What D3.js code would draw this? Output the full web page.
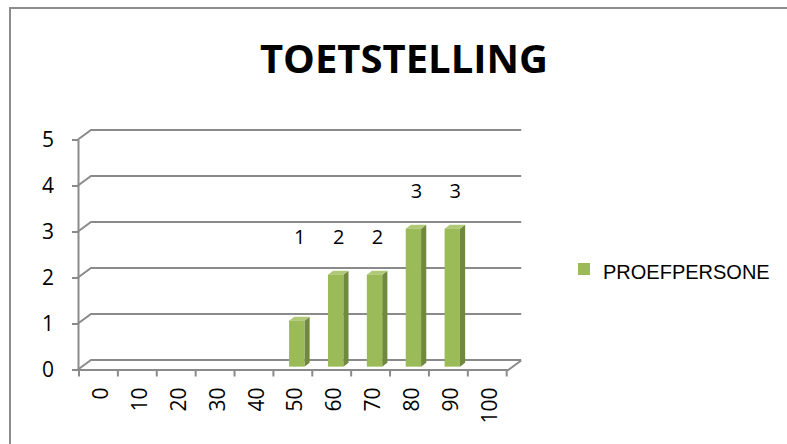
<!DOCTYPE html>
<html>
<head>
<meta charset="utf-8">
<script src="https://cdn.jsdelivr.net/npm/d3@7"></script>
<style>
  html, body { margin: 0; padding: 0; background: #fff; }
  svg { display: block; }
</style>
</head>
<body>
<svg id="chart" width="787" height="444"></svg>
<script>
// Scores of the test subjects, grouped per 10 points
const title = "TOETSTELLING";
const seriesName = "PROEFPERSONE";
const categories = ["0", "10", "20", "30", "40", "50", "60", "70", "80", "90", "100"];
const counts = [0, 0, 0, 0, 0, 1, 2, 2, 3, 3, 0];
const yTicks = [0, 1, 2, 3, 4, 5];

// extra lift (px) for value labels that sit higher than the rest
const labelLift = { "50": 46 };

const svg = d3.select("#chart");

const green = "#9BBB59", greenSide = "#71893F", greenTop = "#AFC978";
const gridCol = "#8A8A8A";

// chart frame
svg.append("rect")
  .attr("x", 10).attr("y", 8).attr("width", 800).attr("height", 460)
  .attr("fill", "#fff").attr("stroke", "#8C8C8C").attr("stroke-width", 2);

// oblique depth of the plot box
const DX = 13, DY = -9.5;

const x = d3.scaleBand().domain(categories).range([79, 506.7]).paddingInner(0).paddingOuter(0);
const y = d3.scaleLinear().domain([0, 5]).range([369.5, 139.5]);
const backRight = x.range()[1] + DX + 1.5;

// back wall gridlines + left wall edges
const grid = svg.append("g").attr("fill", "none").attr("stroke", gridCol).attr("stroke-width", 2);
grid.selectAll("path.g").data(yTicks).join("path")
  .attr("class", "g")
  .attr("d", v => `M${x.range()[0] - 1},${y(v)} L${x.range()[0] - 1 + DX},${y(v) + DY} L${backRight},${y(v) + DY}`);

// floor: front edge and right edge
const x0 = x.range()[0] - 1, x1 = x.range()[1] + 1.5;
grid.append("path")
  .attr("d", `M${x0},${y(0) + 0.5} L${x1},${y(0) + 0.5} L${x1 + DX},${y(0) + 0.5 + DY}`);

// y axis (front vertical edge with ticks)
const yAxis = svg.append("g")
  .attr("transform", `translate(${x0},0)`)
  .call(d3.axisLeft(y).tickValues(yTicks).tickSize(6).tickSizeOuter(0).tickPadding(18).tickFormat(d3.format("d")));
yAxis.selectAll("path, line").attr("stroke", gridCol).attr("stroke-width", 2);
yAxis.selectAll("text")
  .attr("fill", "#000")
  .style("font-family", "'Open Sans', sans-serif")
  .style("font-size", "21px");

// x axis: boundary ticks and rotated category labels
const bounds = d3.range(categories.length + 1).map(i => x.range()[0] + i * x.step());
svg.append("g").selectAll("line").data(bounds).join("line")
  .attr("x1", d => d).attr("x2", d => d)
  .attr("y1", y(0)).attr("y2", y(0) + 7)
  .attr("stroke", gridCol).attr("stroke-width", 2);

const xAxis = svg.append("g")
  .attr("transform", `translate(0,${y(0)})`)
  .call(d3.axisBottom(x).tickSize(0).tickSizeOuter(0));
xAxis.select(".domain").remove();
xAxis.selectAll("text")
  .attr("fill", "#000")
  .style("font-family", "'Open Sans', sans-serif")
  .style("font-size", "21px")
  .attr("text-anchor", "end")
  .attr("y", 0).attr("dy", null)
  .attr("transform", "translate(2,18) rotate(-90)")
  .attr("dy", "0.36em");

// 3D columns
const f0 = 0.3, f1 = 0.7;
const barW = x.bandwidth() * 0.395;
const bars = categories.map((c, i) => ({ c, v: counts[i] })).filter(d => d.v > 0);

const colG = svg.append("g");
bars.forEach(d => {
  const fx = x(d.c) + (x.bandwidth() - barW) / 2 + f0 * DX;
  const fyTop = y(d.v) + f0 * DY, fyBot = y(0) + f0 * DY;
  const ddx = (f1 - f0) * DX, ddy = (f1 - f0) * DY;
  const g = colG.append("g");
  g.append("path").attr("fill", greenSide)
    .attr("d", `M${fx + barW},${fyBot} L${fx + barW + ddx},${fyBot + ddy} L${fx + barW + ddx},${fyTop + ddy} L${fx + barW},${fyTop} Z`);
  g.append("path").attr("fill", greenTop)
    .attr("d", `M${fx},${fyTop} L${fx + ddx},${fyTop + ddy} L${fx + barW + ddx},${fyTop + ddy} L${fx + barW},${fyTop} Z`);
  g.append("rect").attr("fill", green)
    .attr("x", fx).attr("y", fyTop).attr("width", barW).attr("height", fyBot - fyTop);
});

// value labels
svg.append("g").selectAll("text").data(bars).join("text")
  .attr("x", d => x(d.c) + x.bandwidth() / 2 + f0 * DX + 3)
  .attr("y", d => y(d.v) - 34 - (labelLift[d.c] || 0))
  .attr("text-anchor", "middle")
  .style("font-family", "'Open Sans', sans-serif")
  .style("font-size", "20px")
  .attr("fill", "#000")
  .text(d => d.v);

// title
svg.append("text")
  .attr("x", 404).attr("y", 73)
  .attr("text-anchor", "middle")
  .style("font-family", "'Open Sans', sans-serif")
  .style("font-weight", "bold")
  .style("font-size", "40px")
  .attr("fill", "#000")
  .text(title);

// legend
const lg = svg.append("g").attr("transform", "translate(578,263)");
lg.append("rect").attr("width", 12).attr("height", 12).attr("fill", green);
lg.append("text")
  .attr("x", 25).attr("y", 15.5)
  .style("font-family", "'Liberation Sans', Arial, sans-serif")
  .style("font-size", "20px")
  .attr("fill", "#000")
  .text(seriesName);
</script>
</body>
</html>
